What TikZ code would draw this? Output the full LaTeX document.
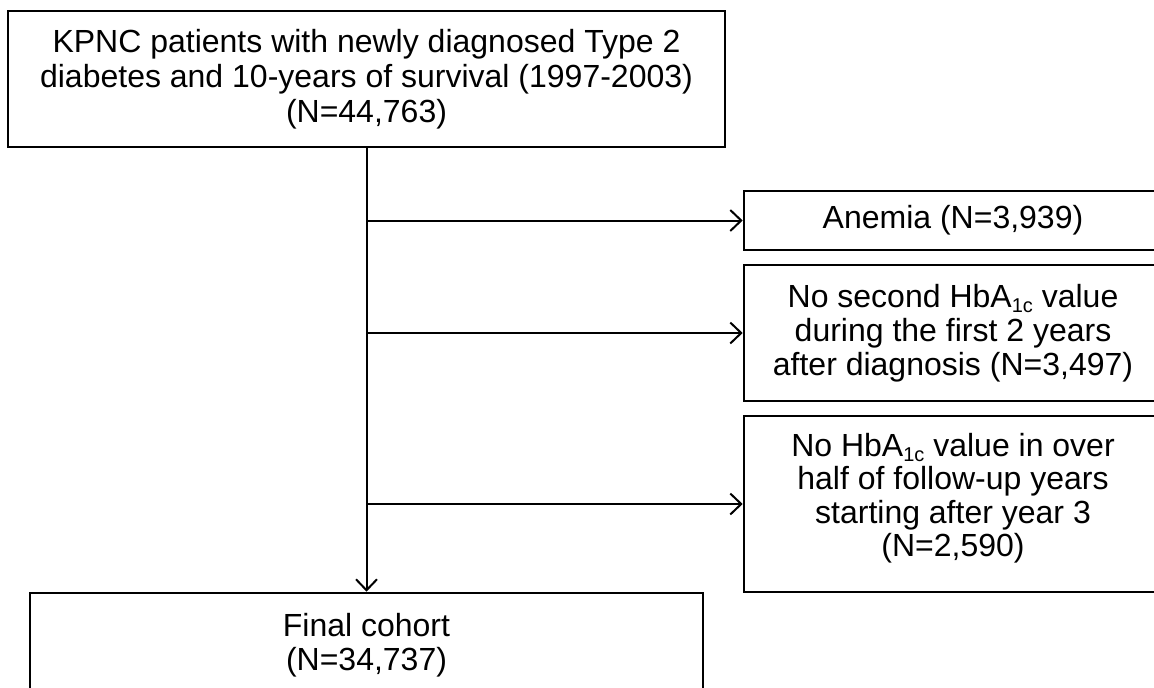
\documentclass[tikz,border=0pt]{standalone}
\usepackage{fontspec}
\setmainfont{Liberation Sans}
\usetikzlibrary{arrows.meta}
\newcommand{\hbsub}{\raisebox{-0.17em}{\fontsize{20}{20}\selectfont 1c}}
\begin{document}
\begin{tikzpicture}[x=1pt,y=-1pt,
  box/.style={draw=black, line width=2.6pt, rectangle, align=center, inner sep=0pt,
    font=\fontsize{32}{33.5}\selectfont},
  txt/.style={align=center, inner sep=0pt, font=\fontsize{32}{33.5}\selectfont},
  arr/.style={line width=2pt, -{Straight Barb[length=11pt,width=21pt,line width=2pt]}}]
\useasboundingbox (0,0) rectangle (1154,688);
\node[box, minimum width=717pt, minimum height=136pt, font=\fontsize{32}{35}\selectfont] (top) at (366.5,79)
  {KPNC patients with newly diagnosed Type 2\\diabetes and 10-years of survival (1997-2003)\\(N=44,763)};
\node[box, minimum width=673pt, minimum height=104pt] (final) at (366.5,645)
  {Final cohort\\(N=34,737)};
\node[box, minimum width=418pt, minimum height=59pt] (anemia) at (953,220.5)
  {Anemia (N=3,939)};
\node[box, minimum width=418pt, minimum height=136pt, font=\fontsize{32}{34}\selectfont] (second) at (953,333)
  {No second HbA\hbsub\ value\\during the first 2 years\\after diagnosis (N=3,497)};
\node[box, minimum width=418pt, minimum height=176pt] (nohba) at (953,504) {};
\node[txt] (nohbatext) at ([yshift=6pt]nohba.center)
  {No HbA\hbsub\ value in over\\half of follow-up years\\starting after year 3\\(N=2,590)};
\draw[arr] (top.south) -- (final.north);
\draw[arr] (anemia.west -| top.south) -- (anemia.west);
\draw[arr] (second.west -| top.south) -- (second.west);
\draw[arr] (nohba.west -| top.south) -- (nohba.west);
\end{tikzpicture}
\end{document}
